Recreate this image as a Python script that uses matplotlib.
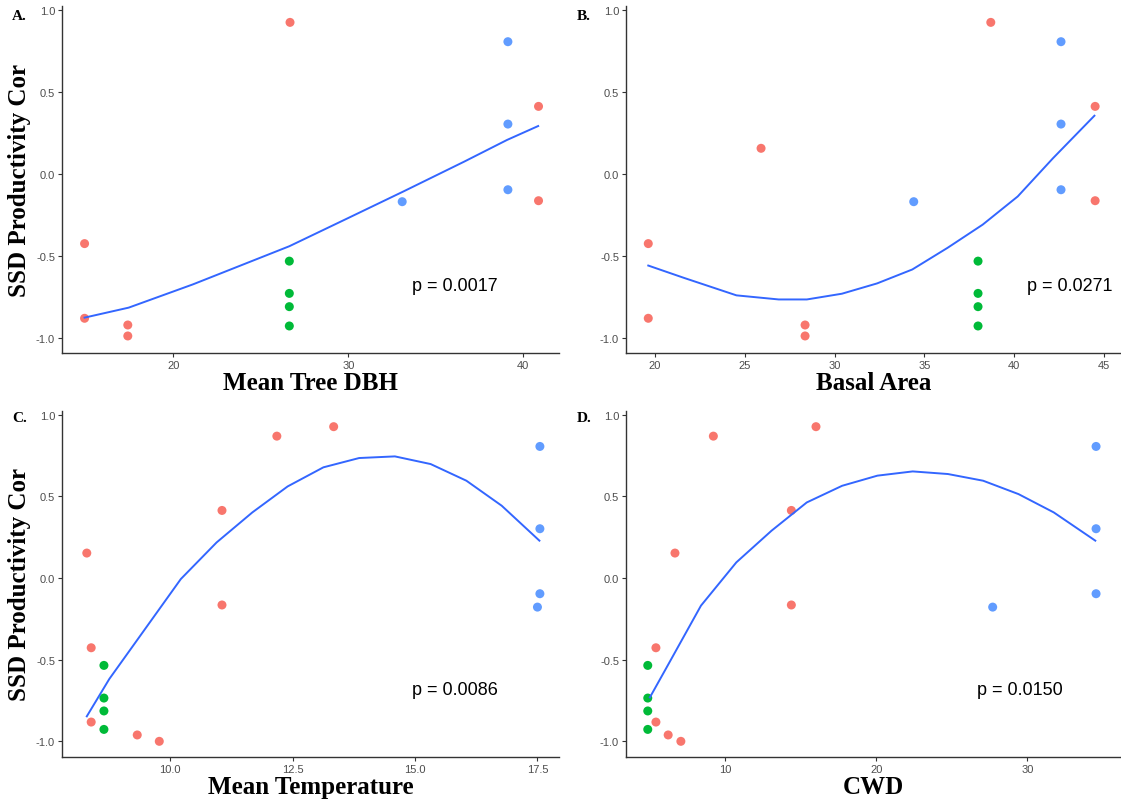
import matplotlib
matplotlib.use("Agg")
import matplotlib.pyplot as plt

# ---------------- data ----------------
# Panel A: Mean Tree DBH
a_red_x = [14.93, 14.93, 17.4, 17.4, 26.67, 40.87, 40.87]
a_red_y = [-0.424, -0.880, -0.921, -0.988, 0.927, 0.414, -0.162]
a_green_x = [26.63, 26.63, 26.63, 26.63]
a_green_y = [-0.531, -0.728, -0.809, -0.927]
a_blue_x = [33.08, 39.12, 39.12, 39.12]
a_blue_y = [-0.168, 0.809, 0.306, -0.095]
a_fit_x = [14.93, 17.45, 21.12, 26.63, 29.99, 33.16, 36.63, 39.07, 40.85]
a_fit_y = [-0.876, -0.815, -0.673, -0.44, -0.268, -0.105, 0.077, 0.209, 0.294]

# Panel B: Basal Area
b_red_x = [19.63, 19.63, 25.91, 28.36, 28.36, 38.70, 44.51, 44.51]
b_red_y = [-0.424, -0.880, 0.158, -0.921, -0.988, 0.927, 0.414, -0.162]
b_green_x = [37.99, 37.99, 37.99, 37.99]
b_green_y = [-0.531, -0.728, -0.809, -0.927]
b_blue_x = [34.41, 42.61, 42.61, 42.61]
b_blue_y = [-0.168, 0.809, 0.306, -0.095]
b_fit_x = [19.63, 21.61, 24.54, 26.89, 28.46, 30.41, 32.37, 34.33, 36.29, 38.25, 40.20, 42.16, 44.47]
b_fit_y = [-0.558, -0.633, -0.740, -0.765, -0.765, -0.730, -0.667, -0.582, -0.450, -0.308, -0.136, 0.097, 0.357]

# Panel C: Mean Temperature
c_red_x = [8.30, 8.39, 8.39, 9.33, 9.78, 11.06, 11.06, 12.18, 13.34]
c_red_y = [0.153, -0.427, -0.882, -0.961, -1.0, 0.414, -0.165, 0.869, 0.927]
c_green_x = [8.65, 8.65, 8.65, 8.65]
c_green_y = [-0.535, -0.735, -0.814, -0.927]
c_blue_x = [17.55, 17.55, 17.55, 17.50]
c_blue_y = [0.806, 0.302, -0.096, -0.178]
c_fit_x = [8.30, 8.76, 9.49, 10.22, 10.95, 11.68, 12.40, 13.13, 13.86, 14.59, 15.32, 16.05, 16.77, 17.54]
c_fit_y = [-0.847, -0.618, -0.312, -0.006, 0.218, 0.402, 0.561, 0.678, 0.735, 0.745, 0.698, 0.596, 0.443, 0.229]

# Panel D: CWD
d_red_x = [5.43, 5.43, 6.24, 7.08, 6.69, 9.23, 14.39, 14.39, 16.02]
d_red_y = [-0.427, -0.882, -0.961, -1.0, 0.153, 0.869, 0.414, -0.165, 0.927]
d_green_x = [4.89, 4.89, 4.89, 4.89]
d_green_y = [-0.535, -0.735, -0.814, -0.927]
d_blue_x = [27.71, 34.55, 34.55, 34.55]
d_blue_y = [-0.178, 0.806, 0.302, -0.096]
d_fit_x = [5.03, 6.08, 8.41, 10.75, 13.08, 15.41, 17.75, 20.08, 22.42, 24.75, 27.08, 29.42, 31.75, 34.50]
d_fit_y = [-0.731, -0.557, -0.169, 0.096, 0.290, 0.463, 0.565, 0.627, 0.653, 0.637, 0.596, 0.514, 0.402, 0.229]

x_labels = ["Mean Tree DBH", "Basal Area", "Mean Temperature", "CWD"]
panel_letters = ["A.", "B.", "C.", "D."]
p_texts = ["p = 0.0017", "p = 0.0271", "p = 0.0086", "p = 0.0150"]
p_pos = [(36.1, -0.68), (43.08, -0.68), (15.82, -0.68), (29.5, -0.68)]
x_ticks = [[20, 30, 40], [20, 25, 30, 35, 40, 45], [10.0, 12.5, 15.0, 17.5], [10, 20, 30]]
x_ticklabels = [["20", "30", "40"], ["20", "25", "30", "35", "40", "45"],
                ["10.0", "12.5", "15.0", "17.5"], ["10", "20", "30"]]
y_ticks = [-1.0, -0.5, 0.0, 0.5, 1.0]
y_ticklabels = ["-1.0", "-0.5", "0.0", "0.5", "1.0"]
y_label = "SSD Productivity Cor"

panels = [
    (a_red_x, a_red_y, a_green_x, a_green_y, a_blue_x, a_blue_y, a_fit_x, a_fit_y),
    (b_red_x, b_red_y, b_green_x, b_green_y, b_blue_x, b_blue_y, b_fit_x, b_fit_y),
    (c_red_x, c_red_y, c_green_x, c_green_y, c_blue_x, c_blue_y, c_fit_x, c_fit_y),
    (d_red_x, d_red_y, d_green_x, d_green_y, d_blue_x, d_blue_y, d_fit_x, d_fit_y),
]

# ---------------- layout / style ----------------
W, H = 1121, 803
RED, GREEN, BLUE, LINE = "#F8766D", "#00BA38", "#619CFF", "#3366FF"
boxes = [(62, 559, 7, 354), (626, 1121, 7, 354), (62, 559, 412, 758), (626, 1121, 412, 758)]
xlims = [(13.64, 42.04), (18.39, 45.95), (7.794, 17.94), (3.45, 36.2)]
ylims = [(-1.092, 1.027), (-1.092, 1.027), (-1.096, 1.023), (-1.096, 1.023)]
letter_pos = [(12, 16), (577, 16), (12, 419), (577, 419)]

fig = plt.figure(figsize=(W / 100, H / 100), dpi=100)
fig.patch.set_facecolor("white")

for i, (rx, ry, gx, gy, bx, by, fx, fy) in enumerate(panels):
    l, r, t, b = boxes[i]
    ax = fig.add_axes([l / W, 1 - b / H, (r - l) / W, (b - t) / H])
    ax.set_facecolor("white")
    ax.scatter(rx, ry, s=42, color=RED, edgecolors="none", zorder=3)
    ax.scatter(gx, gy, s=42, color=GREEN, edgecolors="none", zorder=3)
    ax.scatter(bx, by, s=42, color=BLUE, edgecolors="none", zorder=3)
    ax.plot(fx, fy, color=LINE, lw=1.4, zorder=4)
    ax.set_xlim(*xlims[i])
    ax.set_ylim(*ylims[i])
    ax.set_xticks(x_ticks[i])
    ax.set_xticklabels(x_ticklabels[i])
    ax.set_yticks(y_ticks)
    ax.set_yticklabels(y_ticklabels)
    for s in ["top", "right"]:
        ax.spines[s].set_visible(False)
    for s in ["left", "bottom"]:
        ax.spines[s].set_color("#333333")
        ax.spines[s].set_linewidth(1.0)
    ax.tick_params(axis="both", length=3, width=0.8, color="#333333",
                   labelcolor="#4D4D4D", labelsize=8, pad=2)
    for lab in ax.get_xticklabels() + ax.get_yticklabels():
        lab.set_family("Liberation Sans")
    ax.set_xlabel(x_labels[i], family="Liberation Serif", fontweight="bold", fontsize=18)
    ax.xaxis.set_label_coords(0.5, -30 / (b - t))
    ax.xaxis.label.set_va("center")
    if i in (0, 2):
        ax.set_ylabel(y_label, family="Liberation Serif", fontweight="bold", fontsize=18)
        ax.yaxis.set_label_coords((20 - l) / (r - l), 0.5)
        ax.yaxis.label.set_va("center")
    ax.text(p_pos[i][0], p_pos[i][1], p_texts[i], family="Liberation Sans", fontsize=13,
            color="black", ha="center", va="center")
    lx, ly = letter_pos[i]
    fig.text(lx / W, 1 - ly / H, panel_letters[i], family="Liberation Serif",
             fontweight="bold", fontsize=11, ha="left", va="center")

fig.savefig("out.png", dpi=100, facecolor="white")
